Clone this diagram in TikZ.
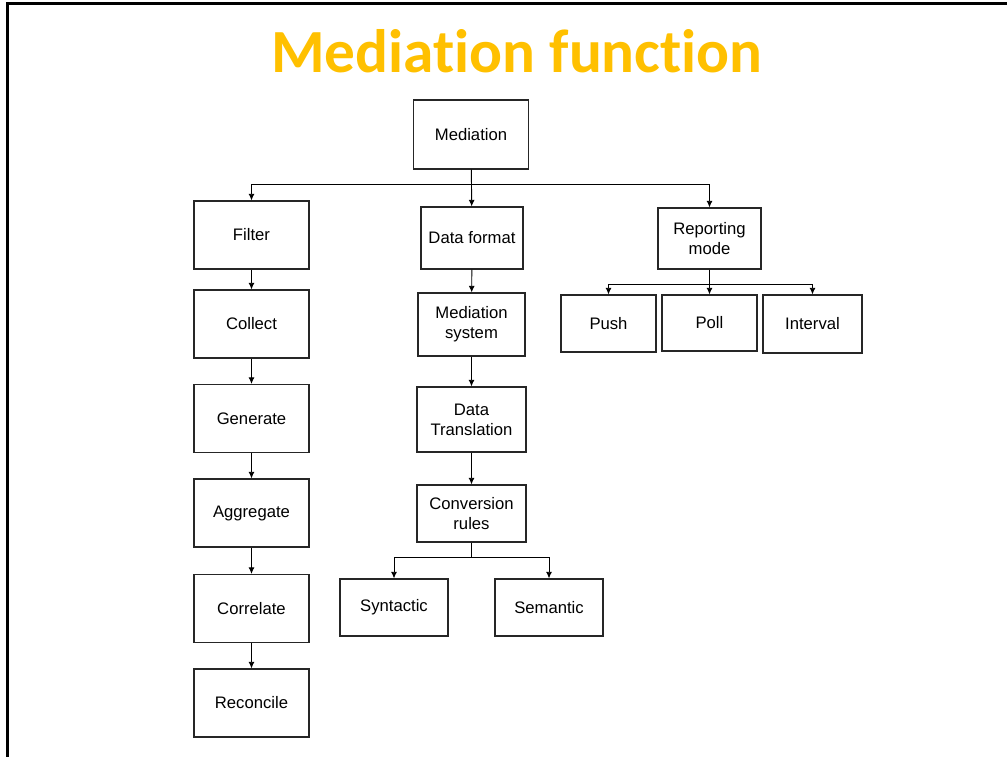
\documentclass[tikz,border=0pt]{standalone}
\usepackage{fontspec}
\setmainfont{Liberation Sans}
\newfontfamily\titlefont[Ligatures=NoCommon]{Carlito}
\usetikzlibrary{arrows.meta}
\definecolor{titlegold}{RGB}{255,192,0}
\begin{document}
\begin{tikzpicture}[
x=0.75pt, y=-0.75pt,
box/.style={rectangle, draw=black!85, line width=0.8pt, align=center, inner sep=0pt,
  font=\fontsize{12.5}{15}\selectfont},
leftbox/.style={box, minimum width=86.25pt, minimum height=51pt},
link/.style={draw=black, line width=0.7pt, -{Latex[length=5pt,width=4.5pt]}},
frame/.style={draw=black, line width=2.25pt},
]
\useasboundingbox (0,0) rectangle (1007,757);
\draw[frame] (7.5,757) -- (7.5,3) -- (1007,3);
\node (title) [anchor=base, text=titlegold, font=\titlefont\bfseries\fontsize{46}{50}\selectfont]
  at (517,72) {Mediation function};
% root
\node (med) [box, minimum width=86.25pt, minimum height=51.75pt] at (471,134.5) {Mediation};
% left column
\node (filter)    [leftbox] at (251.5,235)   {Filter};
\node (collect)   [leftbox] at (251.5,324)   {Collect};
\node (generate)  [leftbox] at (251.5,418.5) {Generate};
\node (aggregate) [leftbox] at (251.5,513)   {Aggregate};
\node (correlate) [leftbox] at (251.5,608.5) {Correlate};
\node (reconcile) [leftbox] at (251.5,703)   {Reconcile};
% middle column
\node (dataformat) [box, minimum width=76.5pt, minimum height=46.5pt] at (472,238) {Data format};
\node (medsys) [box, minimum width=80.25pt, minimum height=47.25pt] at (471.5,324.5) {Mediation\\system};
\node (translate) [box, minimum width=81.75pt, minimum height=48.75pt] at (471.5,419.5) {Data\\Translation};
\node (convert) [box, minimum width=81.75pt, minimum height=42.75pt] at (471.5,513.5) {Conversion\\rules};
\node (syntactic) [box, minimum width=81pt, minimum height=42.75pt] at (394,607.5) {Syntactic};
\node (semantic)  [box, minimum width=81pt, minimum height=42.75pt] at (549,607.5) {Semantic};
% right column
\node (report) [box, minimum width=77.25pt, minimum height=45.75pt] at (709.5,238.5) {Reporting\\mode};
\node (push)     [box, minimum width=71.25pt, minimum height=42.75pt] at (608.5,323.5) {Push};
\node (poll)     [box, minimum width=71.25pt, minimum height=42pt]    at (709.5,323)   {Poll};
\node (interval) [box, minimum width=74.25pt, minimum height=43.5pt]  at (812.5,324)   {Interval};
% connectors
\draw[link] (med) -- (dataformat);
\draw[link] (med.south) -- ++(0,15) -| (filter.north);
\draw[link] (med.south) -- ++(0,15) -| (report.north);
\draw[link] (filter) -- (collect);
\draw[link] (collect) -- (generate);
\draw[link] (generate) -- (aggregate);
\draw[link] (aggregate) -- (correlate);
\draw[link] (correlate) -- (reconcile);
\draw[link] (dataformat) -- (medsys);
\draw[link] (medsys) -- (translate);
\draw[link] (translate) -- (convert);
\draw[link] (convert.south) -- ++(0,15) -| (syntactic.north);
\draw[link] (convert.south) -- ++(0,15) -| (semantic.north);
\draw[link] (report) -- (poll);
\draw[link] (report.south) -- ++(0,15) -| (push.north);
\draw[link] (report.south) -- ++(0,15) -| (interval.north);
\end{tikzpicture}
\end{document}
